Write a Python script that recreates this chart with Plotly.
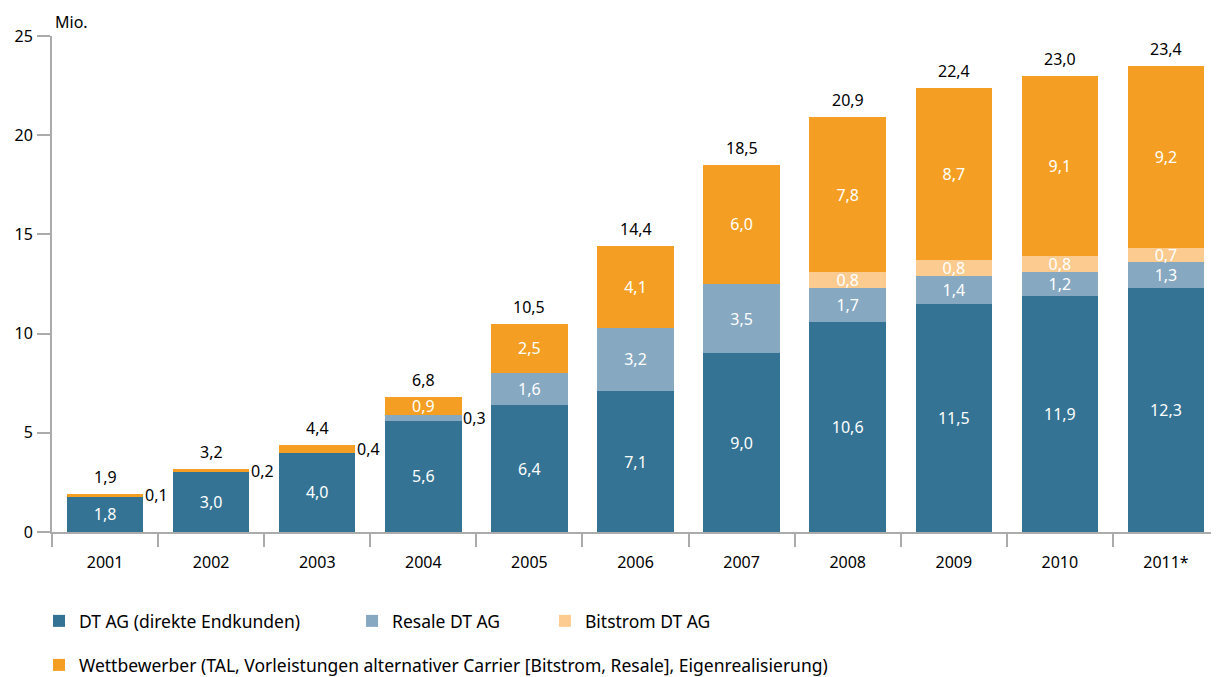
import plotly.graph_objects as go

years = ["2001", "2002", "2003", "2004", "2005", "2006", "2007", "2008", "2009", "2010", "2011*"]
dt_ag = [1.8, 3.0, 4.0, 5.6, 6.4, 7.1, 9.0, 10.6, 11.5, 11.9, 12.3]
resale = [0, 0, 0, 0.3, 1.6, 3.2, 3.5, 1.7, 1.4, 1.2, 1.3]
bitstrom = [0, 0, 0, 0, 0, 0, 0, 0.8, 0.8, 0.8, 0.7]
wettbewerber = [0.1, 0.2, 0.4, 0.9, 2.5, 4.1, 6.0, 7.8, 8.7, 9.1, 9.2]
totals = [1.9, 3.2, 4.4, 6.8, 10.5, 14.4, 18.5, 20.9, 22.4, 23.0, 23.4]

names = ["DT AG (direkte Endkunden)", "Resale DT AG", "Bitstrom DT AG",
         "Wettbewerber (TAL, Vorleistungen alternativer Carrier [Bitstrom, Resale], Eigenrealisierung)"]
colors = ["#347393", "#86a8c0", "#fccb8f", "#f49f23"]
series = [dt_ag, resale, bitstrom, wettbewerber]
legends = ["legend", "legend2", "legend3", "legend4"]

FONT = "Noto Sans"


def fmt(v):
    return f"{v:.1f}".replace(".", ",")


fig = go.Figure()
for vals, name, col, lg in zip(series, names, colors, legends):
    fig.add_trace(go.Bar(
        x=years, y=vals, name=name, marker_color=col, marker_line_width=0,
        text=[fmt(v) if v >= 0.5 else "" for v in vals],
        textposition="inside", insidetextanchor="middle", constraintext="none",
        textfont=dict(color="white", size=16, family=FONT),
        legend=lg, showlegend=True, hoverinfo="skip",
    ))

# small segments labelled beside the bar (x given as category index)
base = [0.0] * len(years)
for vals in series:
    for i, v in enumerate(vals):
        if 0 < v < 0.5:
            fig.add_annotation(x=i, y=base[i] + v / 2, text=fmt(v), showarrow=False,
                               xanchor="left", xshift=38,
                               font=dict(size=16, color="black", family=FONT))
    base = [b + v for b, v in zip(base, vals)]

# totals above bars
for i, (t, b) in enumerate(zip(totals, base)):
    fig.add_annotation(x=i, y=b, text=fmt(t), showarrow=False, yanchor="bottom", yshift=4,
                       font=dict(size=16, color="black", family=FONT))

fig.add_annotation(x=0, y=1, xref="paper", yref="paper", text="Mio.", showarrow=False,
                   xanchor="left", yanchor="bottom", xshift=1, yshift=1,
                   font=dict(size=16, color="black", family=FONT))

leg_common = dict(orientation="h", yanchor="middle", xref="container", yref="container",
                  bgcolor="rgba(0,0,0,0)", font=dict(size=17.5, color="black", family=FONT))

# page body adds 8px offset, so the figure is 8px smaller each way
fig.update_layout(
    barmode="stack", bargap=0.28, showlegend=True,
    width=1211, height=669,
    margin=dict(l=44, r=0, t=28, b=145, autoexpand=False),
    plot_bgcolor="white", paper_bgcolor="white",
    font=dict(family=FONT, size=16, color="black"),
    legend=dict(x=0.0256, y=0.0837, **leg_common),
    legend2=dict(x=0.2841, y=0.0837, **leg_common),
    legend3=dict(x=0.4434, y=0.0837, **leg_common),
    legend4=dict(x=0.0256, y=0.0179, **leg_common),
    xaxis=dict(type="category", showline=True, linecolor="#ababab", linewidth=2, ticks="outside",
               tickson="boundaries", ticklen=13, tickcolor="#ababab", tickwidth=2,
               ticklabelstandoff=15, showgrid=False, tickfont=dict(size=16), automargin=False),
    yaxis=dict(range=[0, 25], dtick=5, showline=True, linecolor="#ababab", linewidth=2,
               ticks="outside", ticklen=13, tickcolor="#ababab", tickwidth=2,
               ticklabelstandoff=1, showgrid=False, zeroline=False, tickfont=dict(size=16),
               automargin=False),
)

fig.write_html("out.html")
